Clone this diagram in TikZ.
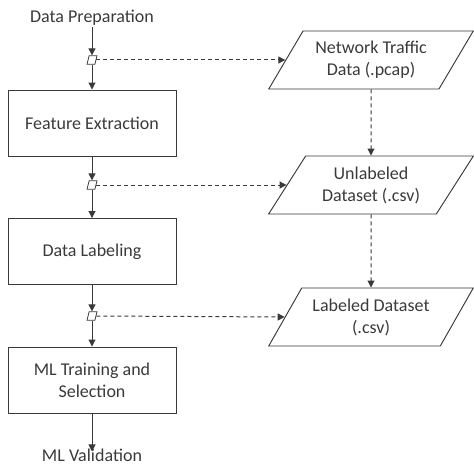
\documentclass[tikz,border=0pt]{standalone}
\usepackage{fontspec}
\setmainfont{Carlito}
\usetikzlibrary{shapes.geometric,arrows.meta}
\definecolor{ink}{HTML}{3A3A3A}
\begin{document}
\begin{tikzpicture}[x=1pt,y=-1pt,
  every node/.style={font=\fontsize{18}{22}\selectfont, text=ink},
  procbox/.style={draw=ink, line width=0.95pt, minimum width=168pt, minimum height=66pt, align=center, inner sep=0pt},
  databox/.style={trapezium, draw=ink, line width=0.95pt, trapezium stretches=true,
     trapezium left angle=54, trapezium right angle=126,
     minimum width=205pt, minimum height=58pt, align=center, inner sep=1pt},
  smallpara/.style={trapezium, draw=ink, line width=0.8pt, fill=white, trapezium stretches=true,
     trapezium left angle=70, trapezium right angle=110,
     minimum width=10pt, minimum height=8.5pt, inner sep=1pt, font=\tiny},
  flow/.style={draw=ink, line width=1pt, -{Triangle[width=7pt,length=7pt]}},
  dflow/.style={draw=ink, line width=1pt, dash pattern=on 4pt off 3pt, -{Triangle[width=7pt,length=7pt]}}
]
\useasboundingbox (0,0) rectangle (474,468);

\node[inner sep=1pt] (dp) at (92,18) {Data Preparation};
\node[smallpara] (s1) at (92,60) {};
\node[procbox] (fe) at (92,123) {Feature Extraction};
\node[smallpara] (s2) at (92,185) {};
\node[procbox] (dl) at (92,251.5) {Data Labeling};
\node[smallpara] (s3) at (92,316) {};
\node[procbox] (ml) at (92,380) {ML Training and\\Selection};
\node[inner sep=1pt] (mv) at (92,455) {ML Validation};

\node[databox] (net) at (371,60) {Network Traffic\\Data (.pcap)};
\node[databox] (unl) at (371,185) {Unlabeled\\Dataset (.csv)};
\node[databox] (lab) at (371,317) {Labeled Dataset\\(.csv)};

\draw[flow] (dp.south) -- (s1.north);
\draw[flow] (s1.south) -- (fe.north);
\draw[flow] (fe.south) -- (s2.north);
\draw[flow] (s2.south) -- (dl.north);
\draw[flow] (dl.south) -- (s3.north);
\draw[flow] (s3.south) -- (ml.north);
\draw[flow] (ml.south) -- ([yshift=-4pt]mv.north);

\draw[dflow] (s1.east) -- (net.left side);
\draw[dflow] (s2.east) -- (unl.left side);
\draw[dflow] (s3.east) -- (lab.left side);
\draw[dflow] (net.south) -- (unl.north);
\draw[dflow] (unl.south) -- (lab.north);
\end{tikzpicture}
\end{document}
